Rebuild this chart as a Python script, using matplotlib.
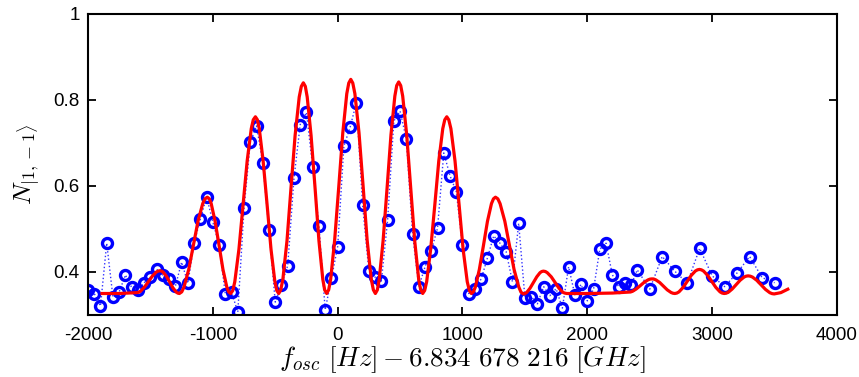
import numpy as np
import matplotlib
matplotlib.use("Agg")
import matplotlib.pyplot as plt

# measured points, every 50 Hz up to 2400, then every 100 Hz
freq = list(range(-2000, 2401, 50)) + list(range(2500, 3501, 100))
pop = [0.357, 0.350, 0.321, 0.467, 0.341, 0.354, 0.393, 0.364, 0.358, 0.375,
       0.388, 0.406, 0.393, 0.383, 0.367, 0.423, 0.374, 0.467, 0.523, 0.575,
       0.516, 0.463, 0.349, 0.353, 0.307, 0.548, 0.702, 0.740, 0.654, 0.498,
       0.330, 0.370, 0.415, 0.618, 0.743, 0.771, 0.644, 0.506, 0.312, 0.385,
       0.459, 0.693, 0.737, 0.794, 0.555, 0.402, 0.388, 0.379, 0.520, 0.751,
       0.774, 0.709, 0.489, 0.366, 0.412, 0.450, 0.502, 0.677, 0.624, 0.587,
       0.462, 0.350, 0.361, 0.384, 0.433, 0.484, 0.467, 0.447, 0.377, 0.513,
       0.340, 0.343, 0.326, 0.366, 0.345, 0.361, 0.316, 0.412, 0.347, 0.371,
       0.333, 0.360, 0.453, 0.467, 0.394, 0.366, 0.374, 0.369, 0.405,
       0.360, 0.436, 0.402, 0.374, 0.455, 0.391, 0.366, 0.398, 0.436, 0.387, 0.375]

# fitted curve (one row per half fringe)
fit_f = [-1888, -1750, -1610,
         -1594, -1579, -1548, -1516, -1485, -1454, -1439, -1423,
         -1410, -1397, -1371, -1345, -1320, -1294, -1281, -1268,
         -1249, -1231, -1193, -1156, -1119, -1081, -1063, -1044,
         -1028, -1013, -982, -950, -919, -888, -873, -857,
         -840, -824, -791, -758, -725, -692, -676, -659,
         -643, -628, -597, -565, -534, -503, -488, -472,
         -456, -439, -406, -374, -341, -308, -291, -275,
         -259, -244, -213, -181, -150, -119, -104, -88,
         -72, -56, -24, 9, 41, 73, 89, 105,
         121, 138, 171, 204, 236, 269, 286, 302,
         318, 333, 364, 396, 427, 458, 473, 489,
         505, 521, 553, 585, 617, 649, 665, 681,
         697, 713, 745, 778, 810, 842, 858, 874,
         890, 907, 940, 973, 1005, 1038, 1055, 1071,
         1087, 1103, 1135, 1168, 1200, 1232, 1248, 1264,
         1283, 1301, 1339, 1376, 1413, 1451, 1469, 1488,
         1501, 1515, 1541, 1568, 1595, 1621, 1635, 1648,
         1664, 1679, 1711, 1742, 1773, 1805, 1820, 1836,
         2000, 2200, 2330,
         2346, 2362, 2393, 2425, 2456, 2488, 2503, 2519,
         2534, 2549, 2580, 2610, 2640, 2671, 2686, 2701,
         2717, 2734, 2767, 2800, 2832, 2865, 2882, 2898,
         2914, 2931, 2964, 2997, 3030, 3063, 3080, 3096,
         3112, 3128, 3160, 3192, 3224, 3256, 3272, 3288,
         3305, 3323, 3358, 3393, 3427, 3462, 3480, 3497,
         3550, 3606]
fit_n = [0.350, 0.350, 0.352,
         0.3529, 0.3554, 0.3648, 0.3775, 0.3903, 0.3996, 0.4021, 0.403,
         0.4021, 0.3994, 0.3898, 0.3765, 0.3633, 0.3535, 0.3509, 0.350,
         0.3538, 0.365, 0.406, 0.462, 0.518, 0.559, 0.5702, 0.574,
         0.5702, 0.559, 0.518, 0.462, 0.406, 0.365, 0.3538, 0.350,
         0.357, 0.3775, 0.4528, 0.5555, 0.6583, 0.7335, 0.754, 0.761,
         0.754, 0.7335, 0.6583, 0.5555, 0.4528, 0.3775, 0.357, 0.350,
         0.3583, 0.3828, 0.4725, 0.595, 0.7175, 0.807, 0.8317, 0.840,
         0.8317, 0.807, 0.7175, 0.595, 0.4725, 0.3828, 0.3583, 0.350,
         0.3585, 0.3834, 0.4745, 0.599, 0.7235, 0.8146, 0.8395, 0.848,
         0.8395, 0.8146, 0.7235, 0.599, 0.4745, 0.3834, 0.3585, 0.350,
         0.3584, 0.383, 0.473, 0.596, 0.719, 0.809, 0.8336, 0.842,
         0.8336, 0.809, 0.719, 0.596, 0.473, 0.383, 0.3584, 0.350,
         0.357, 0.3775, 0.4528, 0.5555, 0.6583, 0.7335, 0.754, 0.761,
         0.754, 0.7335, 0.6583, 0.5555, 0.4528, 0.3775, 0.357, 0.350,
         0.3538, 0.365, 0.406, 0.462, 0.518, 0.559, 0.5702, 0.574,
         0.5702, 0.559, 0.518, 0.462, 0.406, 0.365, 0.3528, 0.349,
         0.3499, 0.3526, 0.3623, 0.3755, 0.3888, 0.3984, 0.4011, 0.402,
         0.4011, 0.3984, 0.3888, 0.3755, 0.3623, 0.3526, 0.3509, 0.350,
         0.350, 0.351, 0.353,
         0.3535, 0.3551, 0.3608, 0.3685, 0.3763, 0.3819, 0.3835, 0.384,
         0.3834, 0.3817, 0.3755, 0.367, 0.3585, 0.3523, 0.3506, 0.350,
         0.351, 0.3538, 0.364, 0.378, 0.392, 0.4022, 0.405, 0.406,
         0.405, 0.4022, 0.392, 0.378, 0.364, 0.3538, 0.351, 0.350,
         0.3507, 0.3527, 0.3603, 0.3705, 0.3808, 0.3883, 0.3903, 0.391,
         0.3903, 0.3882, 0.3805, 0.370, 0.3595, 0.3518, 0.3497, 0.349,
         0.352, 0.360]

xticks = [-2000, -1000, 0, 1000, 2000, 3000, 4000]
yticks = [0.4, 0.6, 0.8, 1.0]
ytick_labels = ["0.4", "0.6", "0.8", "1"]

plt.rcParams['font.family'] = ['Liberation Sans', 'DejaVu Sans']
plt.rcParams['mathtext.fontset'] = 'cm'

fig = plt.figure(figsize=(8.59, 3.77), dpi=100)
ax = fig.add_axes([88/859, 1 - 315/377, (837-88)/859, (315-14)/377])

ax.plot(freq, pop, ':', color='blue', lw=1.0, alpha=0.8, zorder=1)
ax.plot(freq, pop, 'o', mfc='none', mec='blue', ms=7.2, mew=2.4, zorder=2)
ax.plot(fit_f, fit_n, '-', color='red', lw=2.3, zorder=3,
        solid_joinstyle='round')

ax.set_xlim(-2000, 4000)
ax.set_ylim(0.3, 1.0)
ax.set_xticks(xticks)
ax.set_xticklabels([str(t) for t in xticks])
ax.set_yticks(yticks)
ax.set_yticklabels(ytick_labels)
ax.tick_params(direction='in', length=6, width=1.3, top=True, right=True,
               labelsize=13.5)
ax.tick_params(axis='x', pad=9)
ax.tick_params(axis='y', pad=6)
for s in ax.spines.values():
    s.set_linewidth(1.5)

ax.set_xlabel(r'$f_{osc}\ [Hz] - 6.834\ 678\ 216\ [GHz]$', fontsize=19.5, labelpad=0)
ax.set_ylabel(r'$N_{|1,-1\rangle}$', fontsize=18.5, labelpad=8)

fig.savefig("out.png", dpi=100)
